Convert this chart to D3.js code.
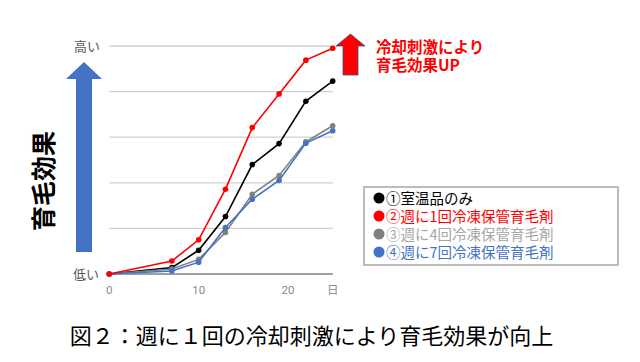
<!DOCTYPE html>
<html><head><meta charset="utf-8">
<script src="https://cdn.jsdelivr.net/npm/d3@7"></script>
<style>body{margin:0;background:#fff}svg{display:block}</style>
</head><body>
<svg id="c" width="640" height="362"></svg>
<script>
const days = [0, 7, 10, 13, 16, 19, 22, 25];
const seriesNames = ["①室温品のみ", "②週に1回冷凍保管育毛剤", "③週に4回冷凍保管育毛剤", "④週に7回冷凍保管育毛剤"];
const room = [0, 0.14, 0.52, 1.26, 2.40, 2.86, 3.79, 4.23];
const once = [0, 0.285, 0.75, 1.86, 3.21, 3.95, 4.69, 4.95];
const four = [0, 0.11, 0.32, 0.91, 1.75, 2.16, 2.90, 3.25];
const seven = [0, 0.066, 0.26, 1.02, 1.64, 2.05, 2.87, 3.14];
const xTicks = [0, 10, 20];
const yGrid = [1, 2, 3, 4, 5];
const lineColors = ["#000000", "#ff0000", "#808080", "#4472c4"];
const textColors = ["#000000", "#ff0000", "#a6a6a6", "#4472c4"];

const svg = d3.select("#c");
const x = d3.scaleLinear().domain([0, 25]).range([109.3, 332.7]);
const y = d3.scaleLinear().domain([0, 5]).range([274, 46]);
const jp = "'Noto Sans CJK JP', sans-serif";

// grid
svg.append("g").selectAll("line").data(yGrid).join("line")
  .attr("x1", x(0)).attr("x2", x(25))
  .attr("y1", d => y(d)).attr("y2", d => y(d))
  .attr("stroke", "#d0d0d0").attr("stroke-width", 1.3);
svg.append("line").attr("x1", x(0)).attr("x2", x(25))
  .attr("y1", y(0)).attr("y2", y(0)).attr("stroke", "#404040").attr("stroke-width", 1.2);

// x tick labels
svg.append("g").selectAll("text").data(xTicks).join("text")
  .attr("x", d => x(d)).attr("y", 294).attr("text-anchor", "middle")
  .attr("font-family", "Roboto, sans-serif").attr("font-size", 11.5).attr("fill", "#8a8a8a")
  .text(d => d);
svg.append("text").attr("x", x(25)).attr("y", 294).attr("text-anchor", "middle")
  .attr("font-family", jp).attr("font-size", 11.5).attr("fill", "#8a8a8a").text("日");

// y labels
svg.append("text").attr("x", 100).attr("y", y(5) + 5).attr("text-anchor", "end")
  .attr("font-family", jp).attr("font-size", 13).attr("fill", "#595959").text("高い");
svg.append("text").attr("x", 99).attr("y", y(0) + 5).attr("text-anchor", "end")
  .attr("font-family", jp).attr("font-size", 13).attr("fill", "#595959").text("低い");

// blue arrow
svg.append("path")
  .attr("d", "M84,62 L102,79 L92,79 L92,252 L76,252 L76,79 L66,79 Z")
  .attr("fill", "#4472c4");
svg.append("text").attr("transform", "translate(53,181) rotate(-90)")
  .attr("text-anchor", "middle").attr("font-family", jp).attr("font-weight", "bold")
  .attr("font-size", 25).attr("fill", "#000").text("育毛効果");

// series
const data = [room, once, four, seven];
const order = [0, 2, 3, 1];
const line = d3.line().x((d, i) => x(days[i])).y(d => y(d));
order.forEach(k => {
  const g = svg.append("g");
  g.append("path").datum(data[k]).attr("d", line).attr("fill", "none")
    .attr("stroke", lineColors[k]).attr("stroke-width", 1.6);
  g.selectAll("circle").data(data[k]).join("circle")
    .attr("cx", (d, i) => x(days[i])).attr("cy", d => y(d)).attr("r", 2.8)
    .attr("fill", lineColors[k]);
});

// red arrow
svg.append("path")
  .attr("d", "M350.5,34 L365,46 L358,46 L358,75 L343,75 L343,46 L336,46 Z")
  .attr("fill", "#ff0000").attr("stroke", "#2f528f").attr("stroke-width", 0.8);
svg.append("text").attr("x", 376).attr("y", 52.5).attr("font-family", jp)
  .attr("font-weight", "bold").attr("font-size", 15.5).attr("fill", "#ff0000").text("冷却刺激により");
svg.append("text").attr("x", 376).attr("y", 70.5).attr("font-family", jp)
  .attr("font-weight", "bold").attr("font-size", 15.5).attr("fill", "#ff0000").text("育毛効果UP");

// legend
svg.append("rect").attr("x", 364).attr("y", 187).attr("width", 254).attr("height", 78)
  .attr("fill", "#fff").attr("stroke", "#a6a6a6").attr("stroke-width", 1.5);
const lg = svg.append("g").selectAll("g").data(seriesNames).join("g")
  .attr("transform", (d, i) => `translate(373,${198 + i * 18})`);
lg.append("circle").attr("cx", 6).attr("cy", 0).attr("r", 5.5).attr("fill", (d, i) => lineColors[i]);
lg.append("text").attr("x", 13).attr("y", 5.5).attr("font-family", jp).attr("font-size", 14.5)
  .attr("fill", (d, i) => textColors[i]).text(d => d);

// caption
svg.append("text").attr("x", 311.5).attr("y", 344).attr("text-anchor", "middle")
  .attr("font-family", jp).attr("font-size", 22).attr("fill", "#000")
  .text("図２：週に１回の冷却刺激により育毛効果が向上");
</script>
</body></html>
